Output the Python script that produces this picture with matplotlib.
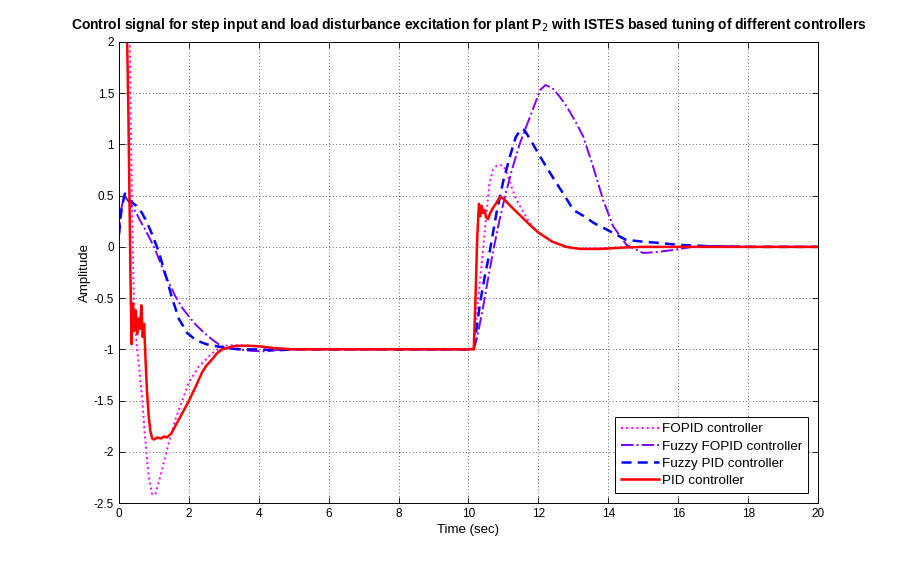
import matplotlib
matplotlib.use("Agg")
import matplotlib.pyplot as plt
import numpy as np

plt.rcParams["font.family"] = ["Liberation Sans", "DejaVu Sans"]

# PID controller
pid_t = [0, 0.15, 0.23, 0.27, 0.30, 0.33, 0.36, 0.40, 0.44, 0.48, 0.52, 0.56, 0.60, 0.64,
         0.68, 0.72, 0.76, 0.80, 0.85, 0.90, 0.95, 1.0, 1.1, 1.2, 1.3, 1.37, 1.5, 1.61,
         1.8, 1.99, 2.2, 2.37, 2.5, 2.66, 2.8, 2.95, 3.32, 3.7, 4.0, 4.5, 5.0, 6.0, 8.0,
         10.15, 10.2, 10.25,
         10.3, 10.34, 10.38, 10.42, 10.46, 10.5, 10.56, 10.62, 10.7, 10.8, 10.9, 11.0,
         11.2, 11.5, 11.8, 12.0, 12.4, 12.8, 13.2, 13.8, 14.5, 15.0, 17.0, 20.0]
pid_y = [12.0, 5.0, 2.1, 1.3, 0.5, -0.3, -0.95, -0.55, -0.82, -0.62, -0.85, -0.7, -0.8,
         -0.57, -0.88, -0.75, -1.1, -1.4, -1.65, -1.8, -1.87, -1.88, -1.86, -1.87, -1.85,
         -1.86, -1.82, -1.75, -1.63, -1.51, -1.36, -1.23, -1.16, -1.1, -1.04, -1.0, -0.967,
         -0.965, -0.97, -0.99, -1.0, -1.0, -1.0,
         -1.0, -0.5, 0.1,
         0.42, 0.30, 0.40, 0.33, 0.36, 0.29, 0.27, 0.33, 0.38, 0.43, 0.49, 0.47,
         0.40, 0.30, 0.20, 0.14, 0.05, 0.0, -0.02, -0.02, -0.005, 0.0, 0.0, 0.0]

# FOPID controller
fopid_t = [0, 0.15, 0.30, 0.34, 0.38, 0.42, 0.46, 0.52, 0.59, 0.66, 0.75, 0.85, 0.95,
           1.04, 1.13, 1.28, 1.42, 1.61, 1.80, 1.99, 2.28, 2.66, 2.95, 3.2, 3.5, 4.0, 4.5,
           5.0, 8.0, 10.15, 10.25, 10.38, 10.47, 10.6, 10.7, 10.8, 10.9, 11.0, 11.1, 11.2,
           11.33, 11.5, 11.76, 12.0, 12.4, 12.8, 13.2, 14.0, 15.0, 20.0]
fopid_y = [12.0, 5.0, 2.3, 1.2, 0.3, -0.4, -0.75, -1.0, -1.22, -1.46, -1.88, -2.24, -2.42,
           -2.41, -2.31, -2.11, -1.92, -1.69, -1.51, -1.33, -1.17, -1.04, -0.97, -0.96,
           -0.96, -0.97, -0.99, -1.0, -1.0, -1.0, -0.6, -0.16, 0.17, 0.62, 0.75, 0.79, 0.8,
           0.79, 0.72, 0.62, 0.49, 0.38, 0.23, 0.14, 0.05, 0.0, -0.02, -0.01, 0.0, 0.0]

# Fuzzy FOPID controller
ffopid_t = [0, 0.05, 0.15, 0.2, 0.3, 0.4, 0.5, 0.6, 0.75, 0.9, 1.04, 1.2, 1.37, 1.5, 1.61,
            1.8, 2.0, 2.2, 2.41, 2.65, 2.89, 3.1, 3.4, 3.8, 4.2, 4.7, 5.0, 8.0, 10.15,
            10.25, 10.4, 10.55, 10.7, 10.88, 11.05, 11.24, 11.47, 11.76, 12.05, 12.2, 12.4,
            12.6, 12.81, 13.05, 13.28, 13.55, 13.85, 14.14, 14.52, 15.0, 15.4, 15.86, 16.4,
            17.0, 18.0, 20.0]
ffopid_y = [0.12, 0.35, 0.5, 0.48, 0.43, 0.38, 0.33, 0.26, 0.17, 0.07, -0.03, -0.17, -0.31,
            -0.4, -0.48, -0.59, -0.68, -0.76, -0.83, -0.9, -0.96, -0.99, -1.0, -1.015,
            -1.02, -1.0, -1.0, -1.0, -1.0, -0.88, -0.62, -0.33, -0.05, 0.25, 0.5, 0.75, 1.01,
            1.27, 1.53, 1.58, 1.55, 1.47, 1.37, 1.23, 1.08, 0.8, 0.46, 0.2, 0.02, -0.06,
            -0.05, -0.03, 0.0, 0.01, 0.0, 0.0]

# Fuzzy PID controller
fpid_t = [0, 0.05, 0.09, 0.17, 0.25, 0.35, 0.5, 0.66, 0.8, 0.94, 1.13, 1.33, 1.52, 1.71,
          1.95, 2.2, 2.5, 2.8, 3.1, 3.5, 4.0, 4.5, 5.0, 8.0, 10.15, 10.19, 10.33, 10.47,
          10.6, 10.8, 11.0, 11.2, 11.35, 11.5, 11.6, 11.8, 12.05, 12.3, 12.52, 12.75, 13.0,
          13.3, 13.6, 13.95, 14.5, 15.0, 15.4, 16.0, 17.0, 18.0, 20.0]
fpid_y = [0.12, 0.3, 0.4, 0.52, 0.47, 0.44, 0.4, 0.33, 0.24, 0.13, -0.04, -0.27, -0.5,
          -0.7, -0.84, -0.91, -0.95, -0.97, -0.99, -1.0, -1.0, -1.01, -1.0, -1.0, -1.0,
          -0.9, -0.55, -0.28, -0.06, 0.33, 0.65, 0.9, 1.07, 1.15, 1.14, 1.03, 0.88, 0.74,
          0.62, 0.5, 0.36, 0.30, 0.23, 0.17, 0.07, 0.05, 0.04, 0.02, 0.005, 0.0, 0.0]

x_ticks = np.arange(0, 21, 2)
y_ticks = np.arange(-2.5, 2.01, 0.5)

fig = plt.figure(figsize=(9.04, 5.68), dpi=100)
ax = fig.add_axes([0.1316, 0.1144, 0.7733, 0.8117])

ax.plot(fopid_t, fopid_y, color="#ff00ff", linestyle=":", linewidth=1.4, label="FOPID controller")
ax.plot(ffopid_t, ffopid_y, color="#7f00ff", linestyle="-.", linewidth=1.4,
        label="Fuzzy FOPID controller")
ax.plot(fpid_t, fpid_y, color="#0000ff", linestyle=(0, (4, 2.5)), linewidth=1.8,
        label="Fuzzy PID controller")
ax.plot(pid_t, pid_y, color="#ff0000", linestyle="-", linewidth=1.8, label="PID controller")

ax.set_xlim(0, 20)
ax.set_ylim(-2.5, 2)
ax.set_xticks(x_ticks)
ax.set_yticks(y_ticks)
ax.set_xticklabels([f"{v:g}" for v in x_ticks])
ax.set_yticklabels([f"{v:g}" for v in y_ticks])
ax.tick_params(direction="in", top=True, right=True, labelsize=8.5, length=4, width=0.6)
ax.grid(True, color="black", linestyle=(0, (1, 3)), linewidth=0.6, alpha=0.8)
for s in ax.spines.values():
    s.set_linewidth(0.7)

ax.set_xlabel("Time (sec)", fontsize=9.5, labelpad=3)
ax.set_ylabel("Amplitude", fontsize=9.5, labelpad=2)
ax.set_title("Control signal for step input and load disturbance excitation for plant P$_2$ "
             "with ISTES based tuning of different controllers",
             fontsize=10.0, fontweight="bold", pad=9)

leg = ax.legend(loc="lower right", fontsize=9.7, handlelength=2.8, handletextpad=0.2,
                borderaxespad=0.75, labelspacing=0.35, borderpad=0.45,
                fancybox=False, framealpha=1)
leg.get_frame().set_edgecolor("black")
leg.get_frame().set_linewidth(0.7)

fig.savefig("out.png", dpi=100)
